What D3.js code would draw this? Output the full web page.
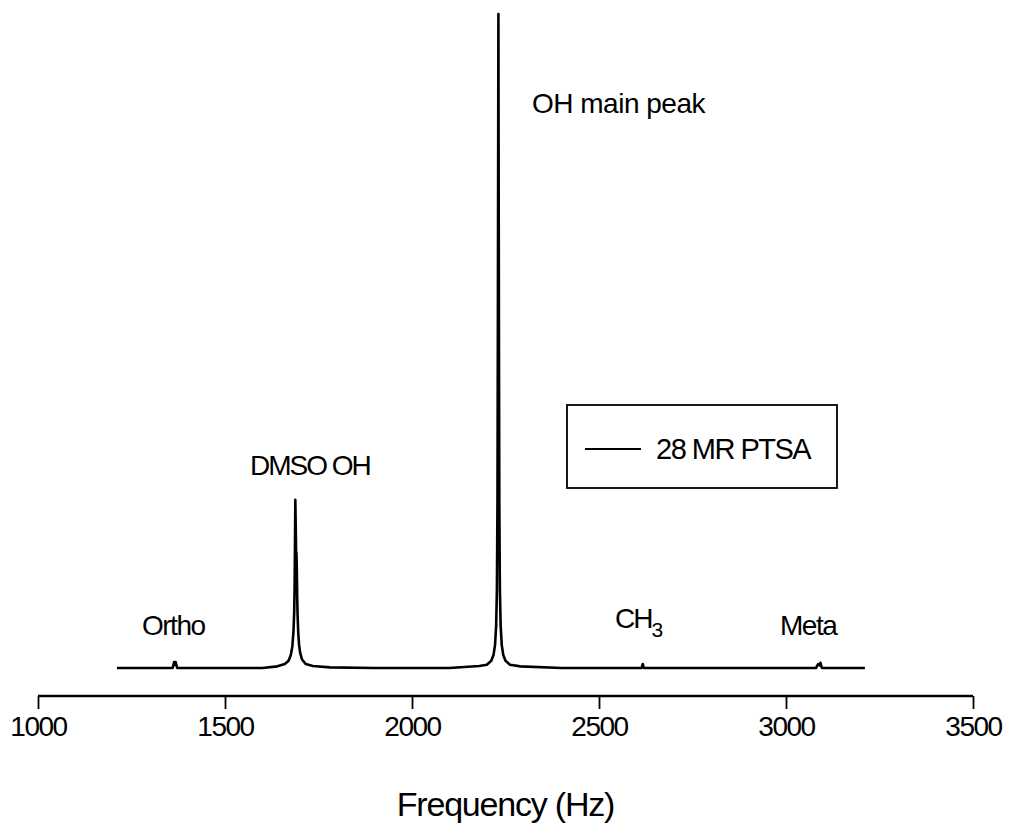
<!DOCTYPE html>
<html>
<head>
<meta charset="utf-8">
<script src="https://cdn.jsdelivr.net/npm/d3@7"></script>
<style>
  body { margin: 0; background: #fff; }
  svg { display: block; }
  text { font-family: "Liberation Sans", Arial, sans-serif; fill: #000; }
</style>
</head>
<body>
<svg id="chart" width="1009" height="833"></svg>
<script>
// Spectrum: frequency (Hz) and relative intensity (% of main peak)
const freq = [1211, 1300, 1360, 1364, 1366, 1368, 1372, 1450, 1600, 1640, 1660, 1670, 1676, 1680, 1683, 1685, 1686, 1687, 1688, 1689, 1690, 1691, 1692, 1693, 1694, 1696, 1698, 1701, 1706, 1716, 1735, 1780, 1900, 2100, 2180, 2200, 2212, 2218, 2222, 2225, 2227, 2228.5, 2229.5, 2230.5, 2231, 2231.5, 2232.5, 2233.5, 2235, 2237, 2240, 2244, 2250, 2262, 2290, 2400, 2614, 2617, 2620, 2800, 3000, 3080, 3086, 3090, 3092, 3096, 3110, 3211];
const intensity = [0, 0, 0, 0.9, 0.5, 0.9, 0, 0, 0, 0.25, 0.6, 1.1, 2.0, 3.3, 5.5, 8.5, 12, 18, 25.7, 22, 17.8, 17.6, 15, 11, 8.2, 5.2, 3.6, 2.3, 1.3, 0.6, 0.3, 0.1, 0, 0, 0.3, 0.5, 1.1, 2.0, 3.5, 6.5, 12, 25, 50, 82, 100, 82, 50, 25, 12, 6.5, 3.5, 2.0, 1.1, 0.5, 0.25, 0, 0, 0.6, 0, 0, 0, 0, 0.6, 0.4, 0.8, 0, 0, 0];

const xTicks = [1000, 1500, 2000, 2500, 3000, 3500];
const seriesName = "28 MR PTSA";
const labels = ["OH main peak", "DMSO OH", "Ortho", "CH", "Meta"];
const labelSubs = ["", "", "", "3", ""];

const svg = d3.select("#chart");
const x = d3.scaleLinear().domain([1000, 3500]).range([38, 973]);
const y = d3.scaleLinear().domain([0, 100]).range([668, 14]);

// x axis
const axisY = 696;
const axis = svg.append("g")
  .attr("transform", `translate(0,${axisY})`)
  .call(d3.axisBottom(x).tickValues(xTicks).tickSize(13).tickPadding(7).tickFormat(d3.format("d")));
axis.select(".domain").attr("stroke", "#000").attr("stroke-width", 2.6).attr("d", `M${x(1000)},0H${x(3500)}`);
axis.selectAll(".tick line").attr("stroke", "#000").attr("stroke-width", 1.8);
axis.selectAll(".tick text")
  .style("font-size", "28px").style("letter-spacing", "-1.5px")
  .style("font-family", "'Liberation Sans', Arial, sans-serif")
  .attr("fill", "#000");

svg.append("text")
  .attr("x", x(2250)).attr("y", 816)
  .attr("text-anchor", "middle")
  .style("font-size", "34px").style("letter-spacing", "-1.2px")
  .text("Frequency (Hz)");

// spectrum
const pts = freq.map((f, i) => [f, intensity[i]]);
svg.append("path")
  .datum(pts)
  .attr("fill", "none")
  .attr("stroke", "#000")
  .attr("stroke-width", 2.6)
  .attr("stroke-linejoin", "round")
  .attr("d", d3.line().x(d => x(d[0])).y(d => y(d[1])));

// annotations
const labelPos = [[532, 113, -0.5], [250, 475, -2], [142, 635, -1.5], [615, 628, -2], [780, 635, -1.5]];
labels.forEach((s, i) => {
  const p = labelPos[i];
  const t = svg.append("text")
    .attr("x", p[0]).attr("y", p[1])
    .style("font-size", "28px").style("letter-spacing", p[2] + "px");
  t.append("tspan").text(s);
  if (labelSubs[i]) {
    t.append("tspan").attr("dy", 9).style("font-size", "21px").text(labelSubs[i]);
  }
});

// legend
const lg = svg.append("g");
lg.append("rect").attr("x", 567).attr("y", 405).attr("width", 270).attr("height", 83)
  .attr("fill", "#fff").attr("stroke", "#000").attr("stroke-width", 1.8);
lg.append("line").attr("x1", 585).attr("x2", 641).attr("y1", 449).attr("y2", 449)
  .attr("stroke", "#000").attr("stroke-width", 2);
lg.append("text").attr("x", 656).attr("y", 459)
  .style("font-size", "29px").style("letter-spacing", "-1.5px")
  .text(seriesName);
</script>
</body>
</html>
